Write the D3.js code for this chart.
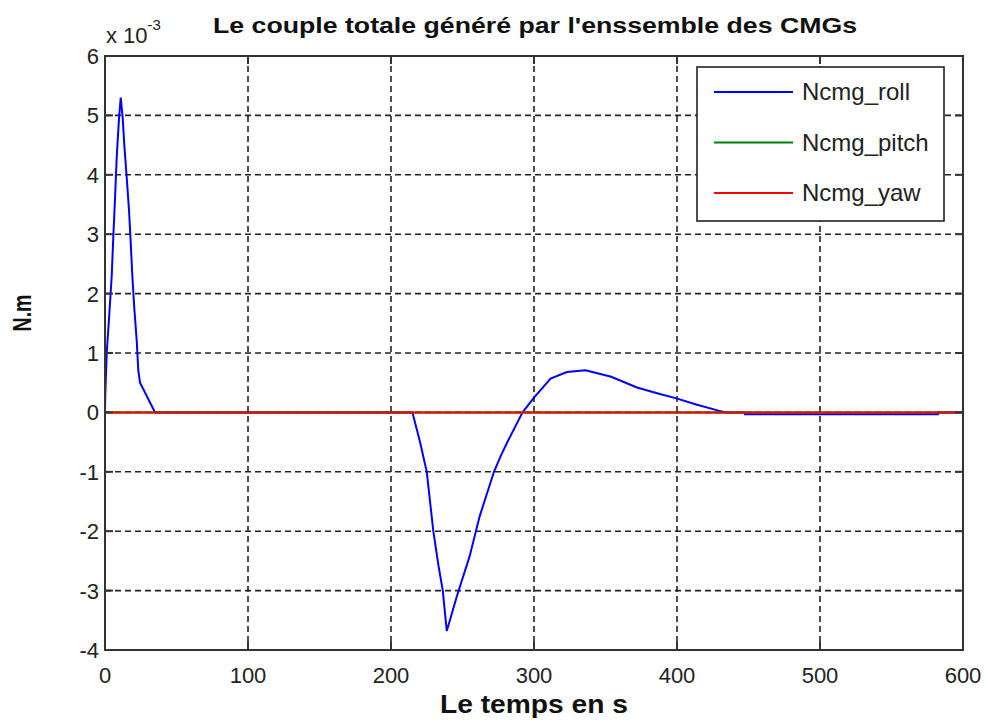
<!DOCTYPE html>
<html>
<head>
<meta charset="utf-8">
<script src="https://cdn.jsdelivr.net/npm/d3@7"></script>
<style>
  html, body { margin: 0; padding: 0; background: #fff; }
  svg { display: block; }
  .tick-label { font-family: "Liberation Sans", Arial, sans-serif; font-size: 22px; fill: #222; }
  .bold { font-family: "Liberation Sans", Arial, sans-serif; font-weight: bold; fill: #111; }
</style>
</head>
<body>
<div id="chart"></div>
<script>
// time axis (s) and roll torque (x 1e-3 N.m)
const rollTime = [0, 0.2, 1.2, 3.0, 4.7, 5.8, 7.0, 8.2, 9.8, 11, 12.4, 13.5, 15.2, 16.8, 18, 19.1, 20.5, 22.2, 23.3, 24.5, 35,
  215, 220.3, 225, 229.6, 233, 236.2, 239, 246, 255, 262, 272, 277, 282, 292, 300, 311.6, 323, 336, 354, 372, 388, 399, 414, 429, 434,
  447, 447.5, 582.5, 583, 600];
const rollValues = [0, 0.3, 1.0, 1.65, 2.3, 2.95, 3.6, 4.3, 4.95, 5.3, 4.95, 4.5, 3.95, 3.4, 2.85, 2.3, 1.75, 1.2, 0.7, 0.5, 0,
  0, -0.5, -1.0, -2.0, -2.55, -3.0, -3.68, -3.1, -2.42, -1.75, -1.0, -0.72, -0.47, 0, 0.25, 0.57, 0.68, 0.71, 0.6, 0.42, 0.31, 0.24, 0.13, 0.03, 0,
  0, -0.03, -0.03, 0, 0];
const flatTime = [0, 600];
const pitchValues = [0, 0];
const yawValues = [0, 0];

const xTicks = [0, 100, 200, 300, 400, 500, 600];
const yTicks = [-4, -3, -2, -1, 0, 1, 2, 3, 4, 5, 6];
const seriesNames = ['Ncmg_roll', 'Ncmg_pitch', 'Ncmg_yaw'];
const seriesColors = ['#0000ff', '#008000', '#ff0000'];

const width = 987, height = 726;
const plot = {left: 105, top: 56, right: 963, bottom: 650};

const svg = d3.select('#chart').append('svg')
  .attr('width', width)
  .attr('height', height);

const x = d3.scaleLinear().domain([0, 600]).range([plot.left, plot.right]);
const y = d3.scaleLinear().domain([-4, 6]).range([plot.bottom, plot.top]);

svg.append('defs').append('clipPath').attr('id', 'plot-clip')
  .append('rect')
  .attr('x', plot.left).attr('y', plot.top)
  .attr('width', plot.right - plot.left).attr('height', plot.bottom - plot.top);

// grid
const grid = svg.append('g').attr('class', 'grid')
  .attr('stroke', '#222').attr('stroke-width', 1.6).attr('stroke-dasharray', '6,4');
grid.selectAll('.vgrid').data(xTicks.slice(1, -1)).enter().append('line')
  .attr('x1', d => x(d)).attr('x2', d => x(d))
  .attr('y1', plot.top).attr('y2', plot.bottom);
grid.selectAll('.hgrid').data(yTicks.slice(1, -1)).enter().append('line')
  .attr('x1', plot.left).attr('x2', plot.right)
  .attr('y1', d => y(d)).attr('y2', d => y(d));

// series
const series = [
  rollTime.map((t, i) => [t, rollValues[i]]),
  flatTime.map((t, i) => [t, pitchValues[i]]),
  flatTime.map((t, i) => [t, yawValues[i]])
];
const line = d3.line().x(d => x(d[0])).y(d => y(d[1]));
const lines = svg.append('g').attr('clip-path', 'url(#plot-clip)');
series.forEach((s, i) => {
  lines.append('path')
    .attr('d', line(s))
    .attr('fill', 'none')
    .attr('stroke', seriesColors[i])
    .attr('stroke-width', 2);
});

// axes box + inward ticks
svg.append('rect')
  .attr('x', plot.left).attr('y', plot.top)
  .attr('width', plot.right - plot.left).attr('height', plot.bottom - plot.top)
  .attr('fill', 'none').attr('stroke', '#333').attr('stroke-width', 2);

const ticks = svg.append('g').attr('stroke', '#333').attr('stroke-width', 2);
xTicks.forEach(t => {
  ticks.append('line').attr('x1', x(t)).attr('x2', x(t)).attr('y1', plot.bottom).attr('y2', plot.bottom - 8);
  ticks.append('line').attr('x1', x(t)).attr('x2', x(t)).attr('y1', plot.top).attr('y2', plot.top + 8);
});
yTicks.forEach(t => {
  ticks.append('line').attr('x1', plot.left).attr('x2', plot.left + 8).attr('y1', y(t)).attr('y2', y(t));
  ticks.append('line').attr('x1', plot.right).attr('x2', plot.right - 8).attr('y1', y(t)).attr('y2', y(t));
});

svg.selectAll('.xlab').data(xTicks).enter().append('text')
  .attr('class', 'tick-label')
  .attr('x', d => x(d)).attr('y', plot.bottom + 33)
  .attr('text-anchor', 'middle')
  .text(d => d);

svg.selectAll('.ylab').data(yTicks).enter().append('text')
  .attr('class', 'tick-label')
  .attr('x', plot.left - 6).attr('y', d => y(d) + 8)
  .attr('text-anchor', 'end')
  .text(d => d);

// exponent marker
const expo = svg.append('text').attr('class', 'tick-label').attr('x', 106).attr('y', 43);
expo.append('tspan').text('x 10');
expo.append('tspan').attr('dy', -13).style('font-size', '15px').text('-3');

// titles
svg.append('text').attr('class', 'bold')
  .attr('x', 535).attr('y', 33)
  .attr('text-anchor', 'middle')
  .style('font-size', '22px')
  .attr('textLength', 644).attr('lengthAdjust', 'spacingAndGlyphs')
  .text("Le couple totale généré par l'enssemble des CMGs");

svg.append('text').attr('class', 'bold')
  .attr('x', 534).attr('y', 713)
  .attr('text-anchor', 'middle')
  .style('font-size', '26px')
  .attr('textLength', 188).attr('lengthAdjust', 'spacingAndGlyphs')
  .text('Le temps en s');

svg.append('text').attr('class', 'bold')
  .attr('transform', 'translate(31,313) rotate(-90)')
  .attr('text-anchor', 'middle')
  .style('font-size', '25px')
  .attr('textLength', 37).attr('lengthAdjust', 'spacingAndGlyphs')
  .text('N.m');

// legend
const legend = svg.append('g');
legend.append('rect')
  .attr('x', 697).attr('y', 67).attr('width', 247).attr('height', 154)
  .attr('fill', '#fff').attr('stroke', '#222').attr('stroke-width', 1.6);
seriesNames.forEach((name, i) => {
  const ly = 92 + i * 50.5;
  legend.append('line')
    .attr('x1', 714).attr('x2', 793).attr('y1', ly).attr('y2', ly)
    .attr('stroke', seriesColors[i]).attr('stroke-width', 2);
  legend.append('text')
    .attr('class', 'tick-label')
    .attr('x', 802).attr('y', ly + 8)
    .style('font-size', '24px')
    .text(name);
});
</script>
</body>
</html>
